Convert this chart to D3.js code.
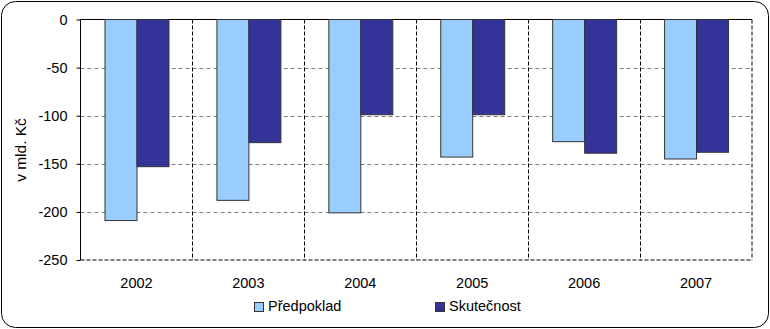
<!DOCTYPE html>
<html>
<head>
<meta charset="utf-8">
<script src="https://cdn.jsdelivr.net/npm/d3@7/dist/d3.min.js"></script>
<style>
  html, body { margin: 0; padding: 0; background: #fff; }
  svg { display: block; font-family: "Liberation Sans", Arial, sans-serif; }
</style>
</head>
<body>
<svg id="chart" width="770" height="329"></svg>
<script>
// Data
const years = ["2002", "2003", "2004", "2005", "2006", "2007"];
const seriesNames = ["Předpoklad", "Skutečnost"];
const predpoklad = [-209, -188, -201, -143, -127, -145];
const skutecnost = [-153, -128, -99, -99, -139, -138];
const yTicks = [0, -50, -100, -150, -200, -250];
const yLabel = "v mld. Kč";
const colors = ["#99CCFF", "#333399"];

const svg = d3.select("#chart");
const W = 770, H = 329;
const plot = { left: 80.5, right: 752, top: 19.5, bottom: 260 };

// Outer rounded frame
svg.append("rect")
  .attr("x", 1.5).attr("y", 1.5)
  .attr("width", W - 3).attr("height", H - 3)
  .attr("rx", 14).attr("ry", 14)
  .attr("fill", "#fff").attr("stroke", "#000").attr("stroke-width", 1);

const x0 = d3.scaleBand().domain(years).range([plot.left, plot.right]).padding(0);
const x1 = d3.scaleBand().domain(seriesNames).range([0, x0.bandwidth()])
  .paddingInner(0).paddingOuter(0.75);
const y = d3.scaleLinear().domain([-250, 0]).range([plot.bottom, plot.top]);

const rows = years.map((yr, i) => ({ year: yr, values: [predpoklad[i], skutecnost[i]] }));

// Horizontal grid
svg.append("g").selectAll("line")
  .data(yTicks.filter(t => t !== 0 && t !== -250))
  .join("line")
  .attr("x1", plot.left).attr("x2", plot.right)
  .attr("y1", d => Math.round(y(d)) + 0.5).attr("y2", d => Math.round(y(d)) + 0.5)
  .attr("stroke", "#808080").attr("stroke-dasharray", "4,3");

// Category dividers
svg.append("g").selectAll("line")
  .data(years.slice(1))
  .join("line")
  .attr("x1", d => Math.round(x0(d)) + 0.5).attr("x2", d => Math.round(x0(d)) + 0.5)
  .attr("y1", plot.top).attr("y2", plot.bottom)
  .attr("stroke", "#000").attr("stroke-dasharray", "4,2");

// Plot frame: solid top, dashed right and bottom
svg.append("line").attr("x1", plot.left).attr("x2", plot.right)
  .attr("y1", plot.top).attr("y2", plot.top).attr("stroke", "#000");
svg.append("line").attr("x1", plot.right).attr("x2", plot.right)
  .attr("y1", plot.top).attr("y2", plot.bottom)
  .attr("stroke", "#000").attr("stroke-dasharray", "4,2");
svg.append("line").attr("x1", plot.left).attr("x2", plot.right)
  .attr("y1", plot.bottom).attr("y2", plot.bottom)
  .attr("stroke", "#000").attr("stroke-dasharray", "4,2");

// Bars
const groups = svg.append("g").selectAll("g")
  .data(rows).join("g")
  .attr("transform", d => `translate(${x0(d.year)},0)`);
groups.selectAll("rect")
  .data(d => d.values.map((v, j) => ({ name: seriesNames[j], value: v, j })))
  .join("rect")
  .attr("x", d => Math.round(x1(d.name)) + 0.5)
  .attr("y", d => y(0))
  .attr("width", x1.bandwidth())
  .attr("height", d => y(d.value) - y(0))
  .attr("fill", d => colors[d.j])
  .attr("stroke", "#333").attr("stroke-width", 1);

// Y axis
const yAxis = d3.axisLeft(y).tickValues(yTicks).tickSize(4).tickPadding(9)
  .tickFormat(d => d === 0 ? "0" : "-" + Math.abs(d));
const gy = svg.append("g").attr("transform", `translate(${plot.left},0)`).call(yAxis);
gy.select(".domain").attr("stroke", "#000").attr("d", `M0,${plot.top}V${plot.bottom}`);
gy.selectAll(".tick line").attr("stroke", "#000");
gy.selectAll(".tick text").attr("font-size", "14.5px").attr("fill", "#000")
  .attr("font-family", "'Liberation Sans', Arial, sans-serif");

// X labels
svg.append("g").selectAll("text")
  .data(years).join("text")
  .attr("x", d => x0(d) + x0.bandwidth() / 2)
  .attr("y", 288)
  .attr("text-anchor", "middle")
  .attr("font-size", "14.5px")
  .text(d => d);

// Y title
svg.append("text")
  .attr("transform", "translate(26,150) rotate(-90)")
  .attr("text-anchor", "middle")
  .attr("font-size", "15.5px")
  .text(yLabel);

// Legend
const legendX = [254, 435];
const legend = svg.append("g").selectAll("g")
  .data(seriesNames).join("g")
  .attr("transform", (d, i) => `translate(${legendX[i]},302)`);
legend.append("rect")
  .attr("x", 0.5).attr("y", 0.5).attr("width", 9).attr("height", 9)
  .attr("fill", (d, i) => colors[i]).attr("stroke", "#333");
legend.append("text")
  .attr("x", 14).attr("y", 9)
  .attr("font-size", "14.5px")
  .text(d => d);
</script>
</body>
</html>
